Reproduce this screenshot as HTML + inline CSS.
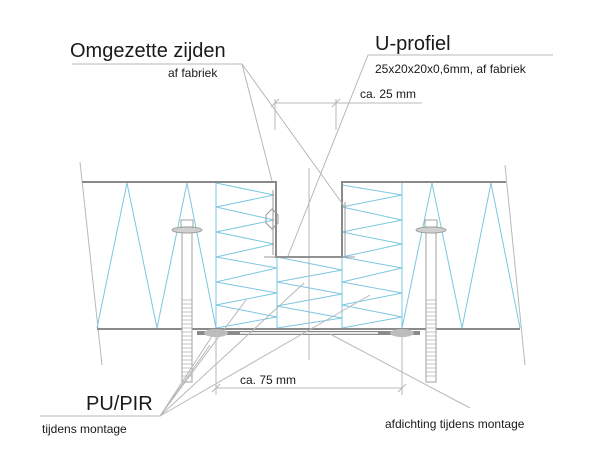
<!DOCTYPE html>
<html><head><meta charset="utf-8"><style>
html,body{margin:0;padding:0;background:#fff;}
svg{display:block;}
text{font-family:"Liberation Sans","DejaVu Sans",sans-serif;fill:#1a1a1a;}
</style></head><body>
<svg width="607" height="456" viewBox="0 0 607 456" xmlns="http://www.w3.org/2000/svg">
<!-- panel slanted end lines -->
<g stroke="#b8b8b8" stroke-width="1" fill="none">
<line x1="80" y1="162" x2="102" y2="365"/>
<line x1="505" y1="165" x2="525" y2="365"/>
<line x1="309" y1="168" x2="309" y2="360"/>
</g>
<!-- insulation -->
<g stroke="#7cc7e0" stroke-width="1" fill="none">
<polyline points="97,328 127,183 157,328 187,183 216,328"/>
<polyline points="402,328 432,183 462,328 491,183 520,328"/>
<line x1="216" y1="183" x2="216" y2="329"/>
<line x1="277" y1="257" x2="277" y2="329"/>
<line x1="342" y1="183" x2="342" y2="329"/>
<line x1="402" y1="183" x2="402" y2="329"/>
<polyline points="216,183 274,195 216,207 274,220 216,232 274,244 216,257 277,268 216,282 277,293 216,305 277,317 216,328"/>
<polyline points="277,257 342,270 277,282 342,294 277,306 342,318 277,328"/>
<polyline points="342,185 402,195 342,207 402,220 342,232 402,244 342,257 402,268 342,282 402,293 342,305 402,317 342,328"/>
</g>
<!-- panel skins -->
<g stroke="#8a8a8a" stroke-width="2" fill="none">
<polyline points="82,182 276,182 276,257 342,257 342,182 506,182"/>
<line x1="97" y1="329" x2="520" y2="329"/>
</g>
<g stroke="#9a9a9a" stroke-width="1" fill="none">
<line x1="273" y1="190" x2="273" y2="255"/>
<line x1="345" y1="202" x2="345" y2="256"/>
<line x1="264" y1="257" x2="355" y2="257"/>
<path d="M266,215 l6,-6 l6,6 l0,8 l-6,6 l-6,-6z"/>
</g>
<!-- bottom strip -->
<rect x="197" y="331" width="223" height="4" fill="#8a8a8a"/>
<rect x="240" y="332" width="138" height="2" fill="#e8e8e8"/>
<ellipse cx="216" cy="333" rx="12" ry="4" fill="#bdbdbd"/>
<ellipse cx="402" cy="333" rx="12" ry="4" fill="#bdbdbd"/>
<!-- bolts -->
<g stroke="#a0a0a0" stroke-width="1" fill="#fff">
<rect x="182" y="232" width="10" height="150"/>
<rect x="181" y="220" width="12" height="7"/>
<ellipse cx="187" cy="230" rx="15" ry="3" fill="#d0d0d0"/>
<rect x="426" y="232" width="10" height="150"/>
<rect x="425" y="220" width="12" height="7"/>
<ellipse cx="431" cy="230" rx="15" ry="3" fill="#d0d0d0"/>
</g>
<g stroke="#b0b0b0" stroke-width="0.8">
<path d="M182,300h10M182,304h10M182,308h10M182,312h10M182,316h10M182,320h10M182,324h10M182,328h10M182,332h10M182,336h10M182,340h10M182,344h10M182,348h10M182,352h10M182,356h10M182,360h10M182,364h10M182,368h10M182,372h10M182,376h10"/>
<path d="M426,300h10M426,304h10M426,308h10M426,312h10M426,316h10M426,320h10M426,324h10M426,328h10M426,332h10M426,336h10M426,340h10M426,344h10M426,348h10M426,352h10M426,356h10M426,360h10M426,364h10M426,368h10M426,372h10M426,376h10"/>
</g>
<!-- leaders / dimensions -->
<g stroke="#b8b8b8" stroke-width="1" fill="none">
<polyline points="72,64 242,64 272,181"/>
<line x1="242" y1="64" x2="344" y2="206"/>
<polyline points="553,55 368,55 288,256"/>
<line x1="275" y1="103" x2="422" y2="103"/>
<line x1="275" y1="99" x2="275" y2="130"/>
<line x1="336" y1="99" x2="336" y2="130"/>
<line x1="271" y1="107" x2="279" y2="99"/>
<line x1="332" y1="107" x2="340" y2="99"/>
<line x1="216" y1="337" x2="216" y2="395"/>
<line x1="402" y1="337" x2="402" y2="395"/>
<line x1="216" y1="388" x2="402" y2="388"/>
<line x1="212" y1="392" x2="220" y2="384"/>
<line x1="398" y1="392" x2="406" y2="384"/>
<polyline points="40,416 160,416 216,330"/>
<line x1="160" y1="416" x2="246" y2="300"/>
<line x1="160" y1="416" x2="304" y2="283"/>
<line x1="160" y1="416" x2="370" y2="295"/>
<line x1="160" y1="416" x2="210" y2="345"/>
<line x1="330" y1="334" x2="470" y2="408"/>
</g>
<!-- text -->
<text x="70" y="57" font-size="20">Omgezette zijden</text>
<text x="168" y="77" font-size="12">af fabriek</text>
<text x="375" y="50" font-size="20">U-profiel</text>
<text x="375" y="73" font-size="12">25x20x20x0,6mm, af fabriek</text>
<text x="360" y="98" font-size="12">ca. 25 mm</text>
<text x="240" y="384" font-size="12">ca. 75 mm</text>
<text x="86" y="410" font-size="20">PU/PIR</text>
<text x="42" y="433" font-size="12">tijdens montage</text>
<text x="385" y="428" font-size="12">afdichting tijdens montage</text>
</svg>
</body></html>
